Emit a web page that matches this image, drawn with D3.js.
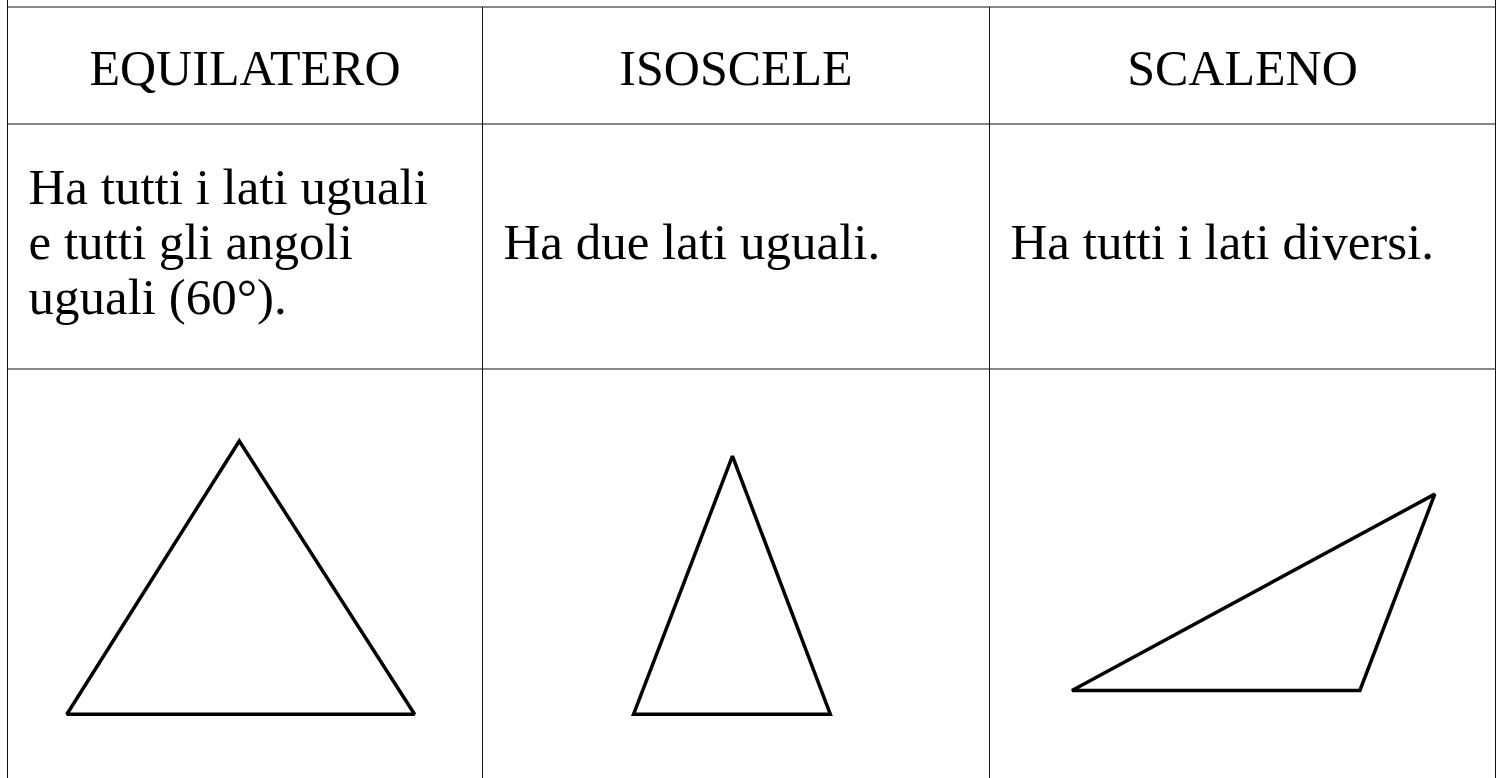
<!DOCTYPE html>
<html lang="it">
<head>
<meta charset="UTF-8"/>
<title>Triangoli - lati</title>
<script src="https://d3js.org/d3.v7.min.js"></script>
<style>
  body { margin: 0; background: #fff; overflow: hidden; }
  svg { display: block; }
  text { font-family: "Liberation Serif", "Times New Roman", serif; fill: #000; }
</style>
</head>
<body>
<script>
// table content
var categories = ["EQUILATERO", "ISOSCELE", "SCALENO"];
var descriptions = [
  ["Ha tutti i lati uguali", "e tutti gli angoli", "uguali (60°)."],
  ["Ha due lati uguali."],
  ["Ha tutti i lati diversi."]
];
// triangle vertices, in percent of the drawing cell (x from left, y from top)
var triX = [
  [48.8, 12.5, 85.7],
  [49.3, 29.8, 68.6],
  [16.3, 73.2, 88.0]
];
var triY = [
  [17.6, 84.4, 84.4],
  [21.3, 84.4, 84.4],
  [78.6, 78.6, 30.6]
];

var w = 1502, h = 778;
var colEdges = [7.5, 482.5, 989.5, 1495.5];
var rowEdges = [7, 124, 369, h];

var svg = d3.select("body").append("svg")
  .attr("width", w)
  .attr("height", h);

// grid
var grid = svg.append("g")
  .attr("stroke", "#111")
  .attr("stroke-width", 1);

grid.selectAll("line.h")
  .data(rowEdges.slice(0, 3))
  .enter().append("line")
  .attr("class", "h")
  .attr("x1", colEdges[0]).attr("x2", colEdges[3])
  .attr("y1", function(d){ return d; })
  .attr("y2", function(d){ return d; });

grid.selectAll("line.v")
  .data(colEdges)
  .enter().append("line")
  .attr("class", "v")
  .attr("x1", function(d){ return d; })
  .attr("x2", function(d){ return d; })
  .attr("y1", function(d, i){ return (i == 0 || i == 3) ? 0 : rowEdges[0]; })
  .attr("y2", h);

// header row
svg.selectAll("text.head")
  .data(categories)
  .enter().append("text")
  .attr("class", "head")
  .attr("x", function(d, i){ return (colEdges[i] + colEdges[i+1]) / 2; })
  .attr("y", 85)
  .attr("text-anchor", "middle")
  .attr("font-size", 50)
  .text(function(d){ return d; });

// description row, vertically centred
var lineH = 55;
descriptions.forEach(function(lines, i){
  var mid = (rowEdges[1] + rowEdges[2]) / 2;
  var first = mid + 12 - (lines.length - 1) * lineH / 2;
  svg.append("text")
    .attr("x", colEdges[i] + 21)
    .attr("font-size", 51)
    .selectAll("tspan")
    .data(lines)
    .enter().append("tspan")
    .attr("x", colEdges[i] + 21)
    .attr("y", function(d, j){ return first + j * lineH; })
    .text(function(d){ return d; });
});

// triangles
categories.forEach(function(c, i){
  var x = d3.scaleLinear().domain([0, 100]).range([colEdges[i], colEdges[i+1]]);
  var y = d3.scaleLinear().domain([0, 100]).range([rowEdges[2], rowEdges[3]]);
  var pts = d3.range(3).map(function(k){ return [x(triX[i][k]), y(triY[i][k])]; });
  svg.append("path")
    .attr("d", d3.line()(pts) + "Z")
    .attr("fill", "none")
    .attr("stroke", "#000")
    .attr("stroke-width", 3.5)
    .attr("stroke-linejoin", "miter")
    .attr("stroke-miterlimit", 2);
});
</script>
</body>
</html>
